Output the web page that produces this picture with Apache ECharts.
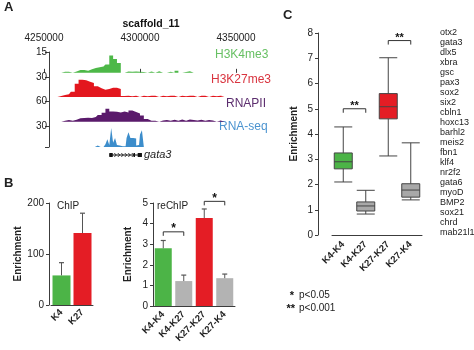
<!DOCTYPE html>
<html>
<head>
<meta charset="utf-8">
<script src="https://cdn.jsdelivr.net/npm/echarts@6/dist/echarts.min.js"></script>
<style>
html, body { margin: 0; padding: 0; background: #fff; }
#main { width: 474px; height: 350px; }
</style>
</head>
<body>
<div id="main"></div>
<script>
// ---- panel A: browser view of scaffold_11 ----
const regionMin = 4250000
const regionMax = 4350000
const regionStep = 50000
const binStart = 4256000
const binSize = 2000
const k4me3 = [0, 0, 0.8, 0.8, 0, 1, 2, 2, 1.5, 2.5, 3.5, 4, 4.5, 6, 12.5, 10, 7, 0, 1, 0.8, 1, 0.8, 0.6, 0, 1, 0, 1.2, 0, 0, 0.8, 0, 1.5, 0, 0.6, 1.2, 0, 0, 0, 0, 0, 0, 0, 0, 0, 0]
const k27me3 = [0, 1.5, 3, 4, 8, 20, 26, 25, 23, 21, 16, 13, 11, 12, 14, 14, 12, 1.5, 2, 1, 2, 0, 2, 1, 2, 2, 0, 2, 1, 2, 2, 0, 2, 1, 2, 2, 0, 2, 2, 0, 2, 1, 2, 1, 0]
const rnapII = [0, 0, 3, 5, 3, 6, 10, 11, 12, 11, 14, 20, 26, 38, 30, 29, 27, 30, 27, 33, 28, 24, 18, 8, 3, 3, 0, 4, 5, 3, 6, 3, 7, 3, 7, 5, 4, 6, 3, 5, 4, 0, 4, 0, 0]
const rnaSeqStart = 4276000
const rnaSeqBin = 1000
const rnaSeq = [0, 2, 0, 0, 0, 1, 4, 11, 3, 27, 6, 13, 3, 2, 1, 0, 1, 13, 21, 13, 13, 12, 2, 3, 18, 24, 0, 0]
const trackNames = ['H3K4me3', 'H3K27me3', 'RNAPII', 'RNA-seq']
const trackMax = [15, 30, 60, 30]
const geneName = 'gata3'
const geneSpan = [4284000, 4301000]
const geneExons = [[4284000, 4285800], [4296600, 4297400], [4298800, 4301000]]

// ---- panel B: ChIP / reChIP ----
const chipCats = ['K4', 'K27']
const chipMean = [58, 141]
const chipErr = [25, 39]
const rechipCats = ['K4-K4', 'K4-K27', 'K27-K27', 'K27-K4']
const rechipMean = [2.8, 1.21, 4.27, 1.35]
const rechipErr = [0.38, 0.29, 0.44, 0.2]
const rechipSig = [[0, 1, 3.6, '*'], [2, 3, 5.08, '*']]

// ---- panel C: box plot over genes ----
const boxCats = ['K4-K4', 'K4-K27', 'K27-K27', 'K27-K4']
const boxStats = [
  [2.1, 2.62, 2.9, 3.25, 4.28],
  [0.83, 0.95, 1.15, 1.31, 1.77],
  [3.13, 4.6, 5.08, 5.6, 7.02],
  [1.39, 1.5, 1.78, 2.03, 3.65]
]
const boxSig = [[0, 1, 5.0, '**'], [2, 3, 7.7, '**']]
const geneList = ['otx2', 'gata3', 'dlx5', 'xbra', 'gsc', 'pax3', 'sox2', 'six2', 'cbln1', 'hoxc13', 'barhl2', 'meis2', 'fbn1', 'klf4', 'nr2f2', 'gata6', 'myoD', 'BMP2', 'sox21', 'chrd', 'mab21l1']

// styling
const FONT = '"Liberation Sans", Arial, sans-serif'
const INK = '#222'
const AXIS = '#3c3c3c'
const trackColor = ['#4db848', '#e3161e', '#5a1a6b', '#3c8dcb']
const labelColor = ['#67c063', '#d9343f', '#5c2d6e', '#4b93cf']
// top, height, y-min (baseline sits a little above the next scale label)
const trackBox = [[52, 25, -3], [77, 24, -6], [101, 25, -12], [126, 21, 0]]
const labelPos = [[215, 49], [211, 74], [226, 98], [219, 121]]
const green = '#4cb447'
const red = '#e41d25'
const grey = '#b3b3b3'
const barColors = [green, grey, red, grey]
const boxColors = [green, '#a8a8a8', red, '#a8a8a8']

const toTrack = (start, bin, vals) => vals.map((v, i) => [start + bin * i + bin / 2, v])
const trackData = [
  toTrack(binStart, binSize, k4me3),
  toTrack(binStart, binSize, k27me3),
  toTrack(binStart, binSize, rnapII),
  toTrack(rnaSeqStart, rnaSeqBin, rnaSeq)
]

const grid = trackBox.map(b => ({ left: 44, width: 192, top: b[0], height: b[1] }))
grid.push({ left: 44, width: 192, top: 150, height: 10 })   // gene model
grid.push({ left: 51, width: 42, top: 203, height: 102 })   // ChIP
grid.push({ left: 153, width: 82, top: 203, height: 103 })  // reChIP
grid.push({ left: 332, width: 90, top: 33, height: 202 })   // box plot

const xAxis = [0, 1, 2, 3, 4].map(i => ({
  type: 'value', gridIndex: i, min: regionMin, max: regionMax, interval: regionStep,
  show: i === 0, position: 'top', offset: 6,
  axisLine: { show: false },
  splitLine: { show: false },
  axisTick: { length: 4, lineStyle: { color: AXIS } },
  axisLabel: { fontSize: 10, color: INK, margin: 3, formatter: v => String(v) }
}))
function catAxis(gridIndex, data, offset) {
  return {
    type: 'category', gridIndex, data, offset,
    axisLine: { lineStyle: { color: AXIS } },
    axisTick: { length: 3, lineStyle: { color: AXIS } },
    axisLabel: { interval: 0, rotate: 45, fontSize: 9.5, fontWeight: 'bold', color: INK, margin: 5 }
  }
}
xAxis.push(catAxis(5, chipCats, 1), catAxis(6, rechipCats, 2), catAxis(7, boxCats, 3))

const yAxis = trackBox.map((b, i) => ({
  type: 'value', gridIndex: i, min: b[2], max: trackMax[i], offset: -5,
  axisLine: { show: true, lineStyle: { color: AXIS } },
  axisTick: { show: true, length: 4, customValues: i === 3 ? [0, trackMax[i]] : [trackMax[i]], lineStyle: { color: AXIS } },
  axisLabel: { customValues: [trackMax[i]], fontSize: 10, color: INK, margin: 2 },
  splitLine: { show: false }
}))
yAxis.push({ type: 'value', gridIndex: 4, min: -1, max: 1, show: false })
function valAxis(gridIndex, max, interval, offset, nameGap) {
  return {
    type: 'value', gridIndex, min: 0, max, interval, offset,
    name: 'Enrichment', nameLocation: 'middle', nameRotate: 90, nameGap,
    nameTextStyle: { fontSize: 10, fontWeight: 'bold', color: INK },
    axisLine: { show: true, lineStyle: { color: AXIS } },
    axisTick: { show: true, length: 3, lineStyle: { color: AXIS } },
    axisLabel: { fontSize: 10, color: INK, margin: 5 },
    splitLine: { show: false }
  }
}
yAxis.push(valAxis(5, 200, 100, 2, 26), valAxis(6, 5, 1, 0, 20), valAxis(7, 8, 1, 14, 19))

function errorSeries(axisIndex, means, errs) {
  return {
    type: 'custom', xAxisIndex: axisIndex, yAxisIndex: axisIndex, silent: true, z: 3,
    encode: { x: 0, y: 1 },
    data: means.map((m, i) => [i, m, errs[i]]),
    renderItem(params, api) {
      const lo = api.coord([api.value(0), api.value(1)])
      const hi = api.coord([api.value(0), api.value(1) + api.value(2)])
      return {
        type: 'group', children: [
          { type: 'line', shape: { x1: lo[0], y1: lo[1], x2: hi[0], y2: hi[1] }, style: { stroke: '#555', lineWidth: 1 } },
          { type: 'line', shape: { x1: hi[0] - 2.5, y1: hi[1], x2: hi[0] + 2.5, y2: hi[1] }, style: { stroke: '#555', lineWidth: 1.2 } }
        ]
      }
    }
  }
}
function bracketSeries(axisIndex, list, fontSize) {
  return {
    type: 'custom', xAxisIndex: axisIndex, yAxisIndex: axisIndex, silent: true, clip: false, z: 4,
    encode: { x: [0, 1], y: 2 },
    data: list.map(b => [b[0], b[1], b[2]]),
    renderItem(params, api) {
      const p = api.coord([api.value(0), api.value(2)])
      const q = api.coord([api.value(1), api.value(2)])
      return {
        type: 'group', children: [
          { type: 'polyline', shape: { points: [[p[0], p[1] + 4], [p[0], p[1]], [q[0], q[1]], [q[0], q[1] + 4]] }, style: { stroke: '#333', fill: null, lineWidth: 1 } },
          { type: 'text', style: { x: (p[0] + q[0]) / 2, y: p[1] - 3, text: list[params.dataIndex][3], font: 'bold ' + fontSize + 'px ' + FONT, fill: '#111', align: 'center', verticalAlign: 'middle' } }
        ]
      }
    }
  }
}

const series = trackData.map((d, i) => ({
  type: 'line', xAxisIndex: i, yAxisIndex: i, data: d, step: 'middle',
  symbol: 'none', silent: true, lineStyle: { width: 0 },
  areaStyle: { color: trackColor[i], opacity: 1 }
}))
series.push({
  type: 'custom', xAxisIndex: 4, yAxisIndex: 4, silent: true, clip: false,
  data: [[geneSpan[0], geneSpan[1]]],
  renderItem(params, api) {
    const a = api.coord([api.value(0), 0])
    const b = api.coord([api.value(1), 0])
    const children = [{ type: 'line', shape: { x1: a[0], y1: a[1], x2: b[0], y2: b[1] }, style: { stroke: '#111', lineWidth: 1 } }]
    geneExons.forEach(e => {
      const p = api.coord([e[0], 0])
      const q = api.coord([e[1], 0])
      children.push({ type: 'rect', shape: { x: p[0], y: p[1] - 2, width: q[0] - p[0], height: 4 }, style: { fill: '#111' } })
    })
    for (let x = a[0] + 6; x < b[0] - 8; x += 3.5) {
      children.push({ type: 'polyline', shape: { points: [[x - 1, a[1] - 2], [x + 1, a[1]], [x - 1, a[1] + 2]] }, style: { stroke: '#111', fill: null, lineWidth: 0.8 } })
    }
    children.push({ type: 'text', style: { x: b[0] + 2, y: b[1], text: geneName, font: 'italic 11px ' + FONT, fill: INK, verticalAlign: 'middle' } })
    return { type: 'group', children }
  }
})
series.push({
  type: 'bar', xAxisIndex: 5, yAxisIndex: 5, barWidth: 18, silent: true,
  data: chipMean.map((v, i) => ({ value: v, itemStyle: { color: i === 0 ? green : red } }))
})
series.push(errorSeries(5, chipMean, chipErr))
series.push({
  type: 'bar', xAxisIndex: 6, yAxisIndex: 6, barWidth: 17, silent: true,
  data: rechipMean.map((v, i) => ({ value: v, itemStyle: { color: barColors[i] } }))
})
series.push(errorSeries(6, rechipMean, rechipErr))
series.push(bracketSeries(6, rechipSig, 12))
series.push({
  type: 'boxplot', xAxisIndex: 7, yAxisIndex: 7, boxWidth: [18, 18], silent: true,
  data: boxStats.map((s, i) => ({ value: s, itemStyle: { color: boxColors[i], borderColor: '#444', borderWidth: 1 } }))
})
series.push(bracketSeries(7, boxSig, 11))

const txt = (left, top, text, font, fill) => ({ type: 'text', left, top, style: { text, font: font + ' ' + FONT, fill: fill || INK } })
const graphic = [
  txt(4, 1, 'A', 'bold 13px'),
  txt(4, 177, 'B', 'bold 13px'),
  txt(283, 9, 'C', 'bold 13px'),
  { type: 'text', x: 151, y: 24, style: { text: 'scaffold_11', font: 'bold 10.5px ' + FONT, fill: '#111', align: 'center', verticalAlign: 'middle' } },
  txt(57, 201, 'ChIP', '10px'),
  txt(157, 201, 'reChIP', '10px'),
  { type: 'text', left: 440, top: 28, style: { text: geneList.join('\n'), font: '9px ' + FONT, lineHeight: 10, fill: INK } },
  { type: 'text', x: 294, y: 296, style: { text: '*', font: 'bold 11px ' + FONT, fill: '#111', align: 'right', verticalAlign: 'middle' } },
  { type: 'text', x: 299, y: 295, style: { text: 'p<0.05', font: '10px ' + FONT, fill: INK, verticalAlign: 'middle' } },
  { type: 'text', x: 295, y: 309, style: { text: '**', font: 'bold 11px ' + FONT, fill: '#111', align: 'right', verticalAlign: 'middle' } },
  { type: 'text', x: 299, y: 308, style: { text: 'p<0.001', font: '10px ' + FONT, fill: INK, verticalAlign: 'middle' } }
]
trackNames.forEach((n, i) => graphic.push(txt(labelPos[i][0], labelPos[i][1], n, '12px', labelColor[i])))

const chart = echarts.init(document.getElementById('main'))
chart.setOption({
  animation: false,
  backgroundColor: '#fff',
  textStyle: { fontFamily: FONT },
  grid, xAxis, yAxis, series, graphic
})
</script>
</body>
</html>
